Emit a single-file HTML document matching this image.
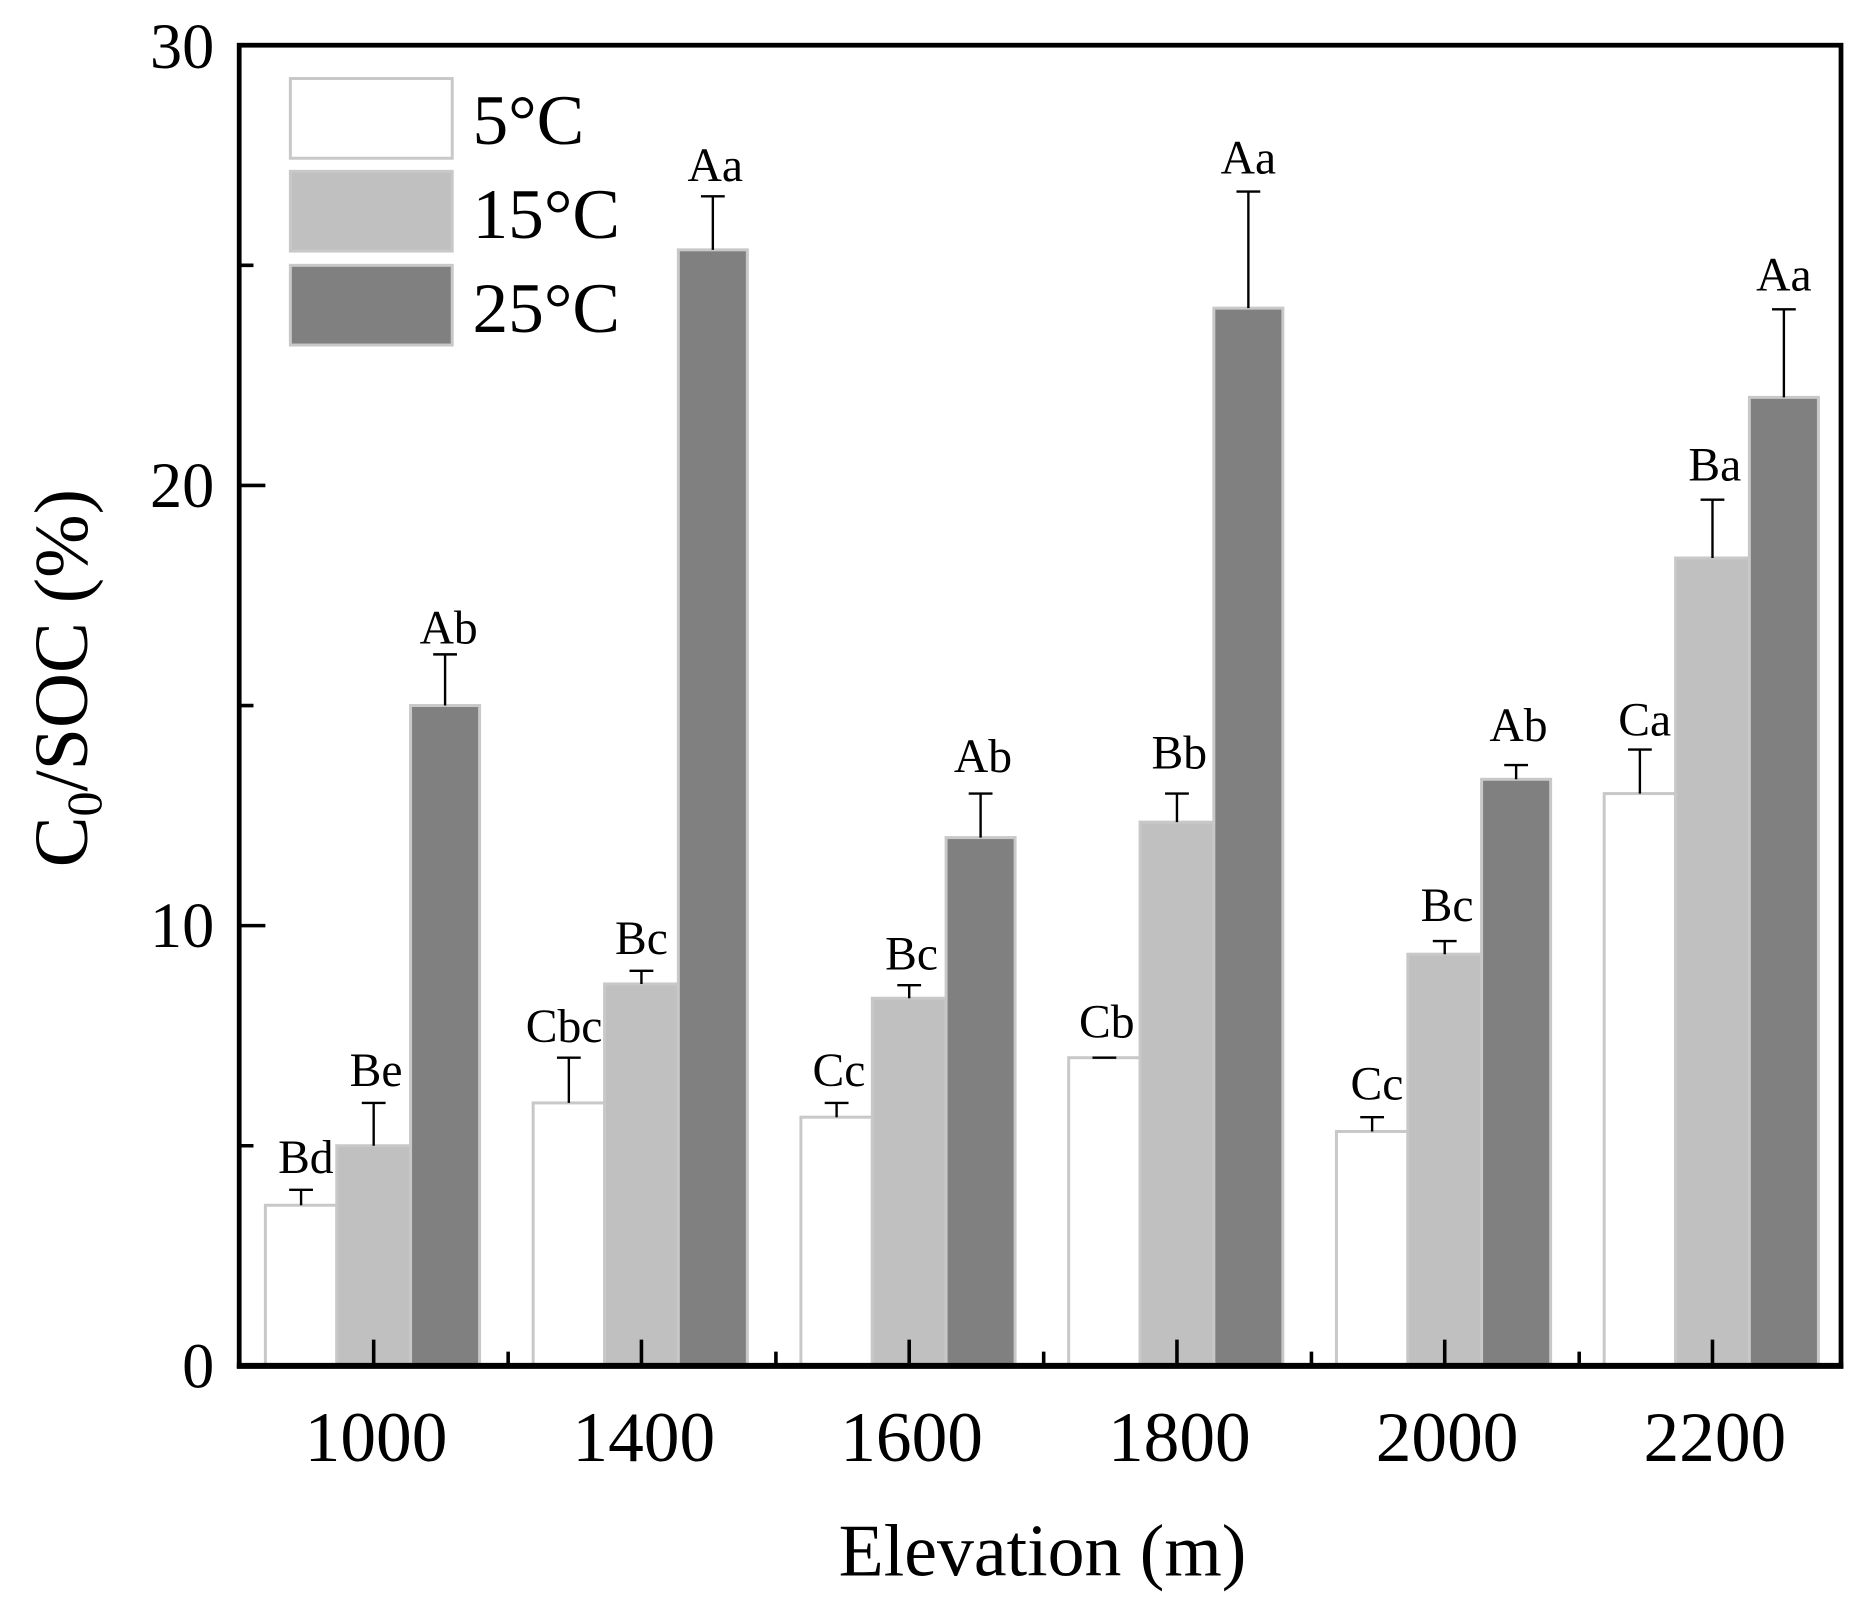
<!DOCTYPE html>
<html><head><meta charset="utf-8"><style>html,body{margin:0;padding:0;background:#fff}svg{display:block}</style></head>
<body>
<svg width="1866" height="1605" viewBox="0 0 1568 1349" preserveAspectRatio="none" xmlns="http://www.w3.org/2000/svg" font-family="Liberation Serif, serif">
<g stroke="#c8c8c8" stroke-width="2.5">
<rect x="223" y="1013" width="60" height="135" fill="#fff"/>
<rect x="283" y="963" width="62" height="185" fill="#c0c0c0"/>
<rect x="345" y="593" width="58" height="555" fill="#808080"/>
<rect x="448" y="927" width="60" height="221" fill="#fff"/>
<rect x="508" y="827" width="62" height="321" fill="#c0c0c0"/>
<rect x="570" y="210" width="58" height="938" fill="#808080"/>
<rect x="673" y="939" width="60" height="209" fill="#fff"/>
<rect x="733" y="839" width="62" height="309" fill="#c0c0c0"/>
<rect x="795" y="704" width="58" height="444" fill="#808080"/>
<rect x="898" y="889" width="60" height="259" fill="#fff"/>
<rect x="958" y="691" width="62" height="457" fill="#c0c0c0"/>
<rect x="1020" y="259" width="58" height="889" fill="#808080"/>
<rect x="1123" y="951" width="60" height="197" fill="#fff"/>
<rect x="1183" y="802" width="62" height="346" fill="#c0c0c0"/>
<rect x="1245" y="655" width="58" height="493" fill="#808080"/>
<rect x="1348" y="667" width="60" height="481" fill="#fff"/>
<rect x="1408" y="469" width="62" height="679" fill="#c0c0c0"/>
<rect x="1470" y="334" width="58" height="814" fill="#808080"/>
</g>
<g stroke="#000" stroke-width="2" fill="none">
<path d="M253 1013V1000M243 1000H263"/>
<path d="M314 963V927M304 927H324"/>
<path d="M374 593V550M364 550H384"/>
<path d="M478 927V889M468 889H488"/>
<path d="M539 827V816M529 816H549"/>
<path d="M599 210V165M589 165H609"/>
<path d="M703 939V927M693 927H713"/>
<path d="M764 839V828M754 828H774"/>
<path d="M824 704V667M814 667H834"/>
<path d="M928 889V889M918 889H938"/>
<path d="M989 691V667M979 667H999"/>
<path d="M1049 259V161M1039 161H1059"/>
<path d="M1153 951V939M1143 939H1163"/>
<path d="M1214 802V791M1204 791H1224"/>
<path d="M1274 655V643M1264 643H1284"/>
<path d="M1378 667V630M1368 630H1388"/>
<path d="M1439 469V420M1429 420H1449"/>
<path d="M1499 334V260M1489 260H1509"/>
</g>
<g font-size="40" text-anchor="middle" fill="#000">
<text x="257" y="986">Bd</text>
<text x="316" y="913">Be</text>
<text x="377" y="541">Ab</text>
<text x="474" y="876">Cbc</text>
<text x="539" y="802">Bc</text>
<text x="601" y="152">Aa</text>
<text x="705" y="913">Cc</text>
<text x="766" y="815">Bc</text>
<text x="826" y="649">Ab</text>
<text x="930" y="872">Cb</text>
<text x="991" y="646">Bb</text>
<text x="1049" y="146">Aa</text>
<text x="1157" y="924">Cc</text>
<text x="1216" y="774">Bc</text>
<text x="1276" y="623">Ab</text>
<text x="1382" y="618">Ca</text>
<text x="1441" y="404">Ba</text>
<text x="1499" y="244">Aa</text>
</g>
<rect x="201" y="38" width="1346" height="1110" fill="none" stroke="#000" stroke-width="4"/>
<line x1="199" y1="1148" x2="1549" y2="1148" stroke="#000" stroke-width="5"/>
<g stroke="#000" stroke-width="3">
<path d="M314 1148V1126M539 1148V1126M764 1148V1126M989 1148V1126M1214 1148V1126M1439 1148V1126"/>
<path d="M427 1148V1136M652 1148V1136M877 1148V1136M1102 1148V1136M1327 1148V1136"/>
<path d="M201 778H223M201 408H223M201 963H213M201 593H213M201 223H213"/>
</g>
<g font-size="54" text-anchor="end">
<text x="180" y="1166">0</text>
<text x="180" y="796">10</text>
<text x="180" y="426">20</text>
<text x="180" y="57">30</text>
</g>
<g font-size="60" text-anchor="middle">
<text x="316" y="1228">1000</text>
<text x="541" y="1228">1400</text>
<text x="766" y="1228">1600</text>
<text x="991" y="1228">1800</text>
<text x="1216" y="1228">2000</text>
<text x="1441" y="1228">2200</text>
<text x="876" y="1324" font-size="62">Elevation (m)</text>
</g>
<text transform="translate(73,570) rotate(-90)" font-size="64" text-anchor="middle">C<tspan font-size="42" dy="12">0</tspan><tspan dy="-12">/SOC (%)</tspan></text>
<g stroke="#c8c8c8" stroke-width="2.5">
<rect x="244" y="66" width="136" height="67" fill="#fff"/>
<rect x="244" y="144" width="136" height="67" fill="#c0c0c0"/>
<rect x="244" y="223" width="136" height="67" fill="#808080"/>
</g>
<g font-size="60">
<text x="397" y="121">5°C</text>
<text x="397" y="200">15°C</text>
<text x="397" y="279">25°C</text>
</g>
</svg>
</body></html>
